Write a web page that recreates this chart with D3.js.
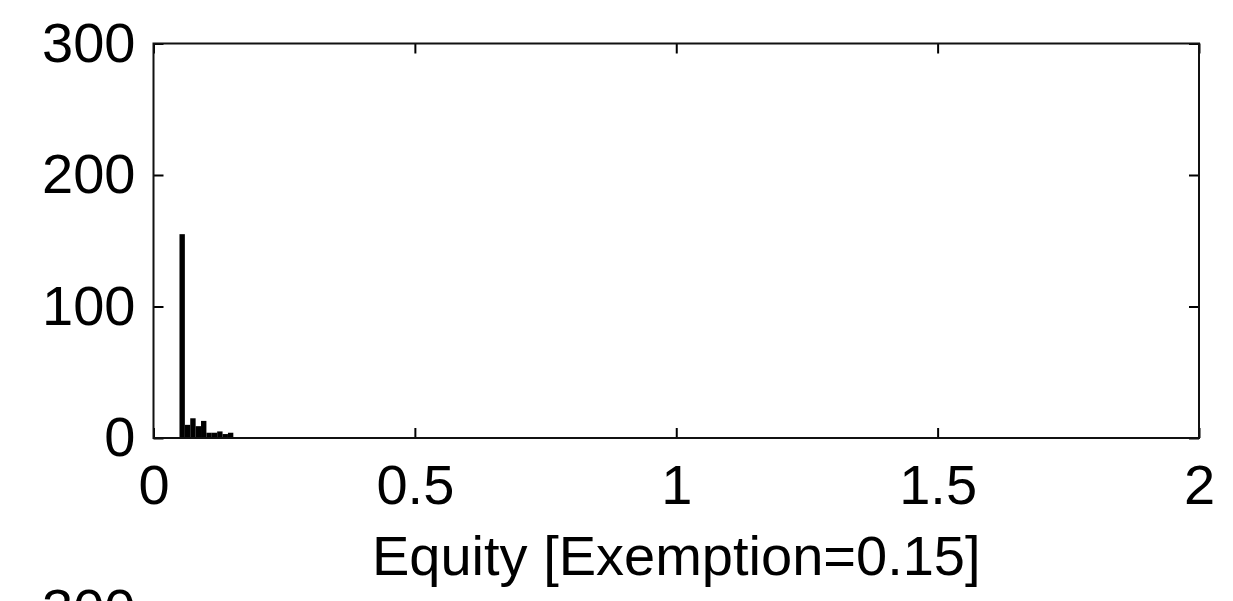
<!DOCTYPE html>
<html>
<head>
<meta charset="utf-8">
<script src="https://cdn.jsdelivr.net/npm/d3@7"></script>
<style>
  body { margin: 0; background: #fff; }
  svg { display: block; }
  text { font-family: "Liberation Sans", Arial, sans-serif; fill: #000; }
</style>
</head>
<body>
<svg id="main" width="1233" height="601"></svg>
<script>
// histogram bins (left edge, right edge) and counts
var binLow  = [0.0497, 0.0600, 0.0703, 0.0806, 0.0909, 0.1012, 0.1115, 0.1218, 0.1321, 0.1424];
var binHigh = [0.0600, 0.0703, 0.0806, 0.0909, 0.1012, 0.1115, 0.1218, 0.1321, 0.1424, 0.1527];
var counts  = [155, 10, 15, 9, 13, 4, 4, 5, 3, 4];

var xTicks = [0, 0.5, 1, 1.5, 2];
var xTickLabels = ["0", "0.5", "1", "1.5", "2"];
var yTicks = [0, 100, 200, 300];
var yTickLabels = ["0", "100", "200", "300"];
var xLabel = "Equity [Exemption=0.15]";

var svg = d3.select('svg#main');
// note: "top" is taken by window.top, so plot edges get their own names
var plotLeft = 153.5, plotRight = 1199, plotTop = 43.5, plotBottom = 438;

var x = d3.scaleLinear().domain([0, 2]).range([plotLeft, plotRight]);
var y = d3.scaleLinear().domain([0, 300]).range([plotBottom, plotTop]);

var bins = counts.map(function(c, i) { return {lo: binLow[i], hi: binHigh[i], n: c}; });

svg.append('g')
  .selectAll('rect').data(bins)
  .join('rect')
  .attr('x', function(d) { return x(d.lo); })
  .attr('width', function(d) { return x(d.hi) - x(d.lo); })
  .attr('y', function(d) { return y(d.n); })
  .attr('height', function(d) { return y(0) - y(d.n); })
  .attr('fill', '#000');

// axes: inward ticks on all four sides, like a boxed matlab plot
var tick = 10;
var fs = 56;

svg.append('g').attr('transform', 'translate(0,' + plotBottom + ')')
  .call(d3.axisBottom(x).tickValues(xTicks).tickSize(-tick).tickFormat(function(d, i) { return xTickLabels[i]; }))
  .call(function(g) {
    g.select('.domain').remove();
    g.selectAll('text').attr('y', 26).attr('dy', '0.71em').style('font-size', fs + 'px')
      .style('font-family', '"Liberation Sans", Arial, sans-serif');
  });

svg.append('g').attr('transform', 'translate(0,' + plotTop + ')')
  .call(d3.axisTop(x).tickValues(xTicks).tickSize(-tick).tickFormat(''))
  .call(function(g) { g.select('.domain').remove(); });

svg.append('g').attr('transform', 'translate(' + plotLeft + ',0)')
  .call(d3.axisLeft(y).tickValues(yTicks).tickSize(-tick).tickFormat(function(d, i) { return yTickLabels[i]; }))
  .call(function(g) {
    g.select('.domain').remove();
    g.selectAll('text').attr('x', -18).style('font-size', fs + 'px')
      .style('font-family', '"Liberation Sans", Arial, sans-serif');
  });

svg.append('g').attr('transform', 'translate(' + plotRight + ',0)')
  .call(d3.axisRight(y).tickValues(yTicks).tickSize(-tick).tickFormat(''))
  .call(function(g) { g.select('.domain').remove(); });

svg.selectAll('.tick line').attr('stroke', '#000').attr('stroke-width', 2);

svg.append('rect')
  .attr('x', plotLeft).attr('y', plotTop)
  .attr('width', plotRight - plotLeft).attr('height', plotBottom - plotTop)
  .attr('fill', 'none').attr('stroke', '#111').attr('stroke-width', 2);

svg.append('text')
  .attr('x', (plotLeft + plotRight) / 2).attr('y', 575)
  .attr('text-anchor', 'middle')
  .style('font-size', fs + 'px')
  .text(xLabel);

// top of the next panel's y label, cut by the window edge
svg.append('text')
  .attr('x', plotLeft - 18).attr('y', 628)
  .attr('text-anchor', 'end')
  .style('font-size', fs + 'px')
  .text(yTickLabels[3]);
</script>
</body>
</html>
